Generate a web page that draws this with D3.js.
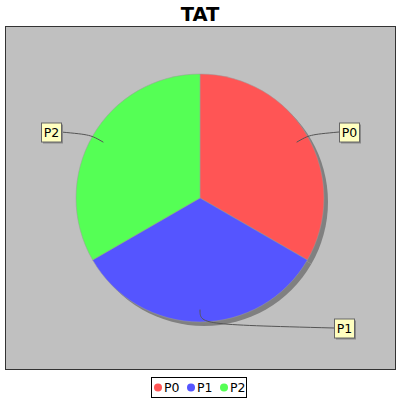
<!DOCTYPE html>
<html><head><meta charset="utf-8">
<script src="https://cdn.jsdelivr.net/npm/d3@7"></script>
<style>html,body{margin:0;padding:0;background:#fff;}svg{display:block;}</style>
</head><body>
<script>
const title = "TAT";
const categories = ["P0", "P1", "P2"];
const values = [1, 1, 1];
const colors = ["#FF5555", "#5555FF", "#55FF55"];

const W = 400, H = 400;
const svg = d3.select("body").append("svg").attr("width", W).attr("height", H);
const font = "'DejaVu Sans', sans-serif";

svg.append("text").attr("x", 200).attr("y", 21).attr("text-anchor", "middle")
  .attr("font-family", font).attr("font-weight", "bold").attr("font-size", 19.5).text(title);

// plot area
svg.append("rect").attr("x", 5.5).attr("y", 26.5).attr("width", 390).attr("height", 343)
  .attr("fill", "#C0C0C0").attr("stroke", "#333").attr("stroke-width", 1);

const cx = 200, cy = 198, R = 124;
const pie = d3.pie().sort(null).value(d => d)(values);
const arc = d3.arc().innerRadius(0).outerRadius(R);
const g = svg.append("g").attr("transform", `translate(${cx},${cy})`);

// shadow
g.append("g").attr("transform", "translate(4,4)").selectAll("path").data(pie).join("path")
  .attr("d", arc).attr("fill", "#808080");
g.selectAll("path.slice").data(pie).join("path").attr("class", "slice")
  .attr("d", arc).attr("fill", (d, i) => colors[i]).attr("stroke", "#9a9a9a").attr("stroke-width", 0.5);

// labels
const labelPos = [
  {x: 339, y: 132, side: "right"},
  {x: 334, y: 328, side: "right"},
  {x: 61, y: 132, side: "left"}
];
const lg = svg.append("g");
pie.forEach((d, i) => {
  const a = (d.startAngle + d.endAngle) / 2;
  const sx = cx + Math.sin(a) * R * 0.9, sy = cy - Math.cos(a) * R * 0.9;
  const ex = cx + Math.sin(a) * R * 1.02, ey = cy - Math.cos(a) * R * 1.02;
  const L = labelPos[i];
  lg.append("path")
    .attr("d", `M${sx},${sy} C${ex},${ey} ${ex},${ey} ${L.x},${L.y}`)
    .attr("fill", "none").attr("stroke", "#555").attr("stroke-width", 1);
});
pie.forEach((d, i) => {
  const L = labelPos[i];
  const t = lg.append("text").attr("font-family", font).attr("font-size", 12.5).text(categories[i]);
  const w = t.node().getComputedTextLength();
  const bw = Math.round(w + 4), bh = 19;
  const bx = L.side === "right" ? L.x : L.x - bw;
  const by = L.y - 9.5;
  lg.insert("rect", "text").attr("x", bx + 2).attr("y", by + 2).attr("width", bw).attr("height", bh).attr("fill", "#8a8a8a");
  lg.insert("rect", "text").attr("x", bx + 0.5).attr("y", by + 0.5).attr("width", bw).attr("height", bh)
    .attr("fill", "#FFFFC0").attr("stroke", "#666").attr("stroke-width", 1);
  t.attr("x", bx + bw / 2 + 0.5).attr("y", L.y + 5).attr("text-anchor", "middle");
});

// legend
const leg = svg.append("g");
leg.append("rect").attr("x", 151.5).attr("y", 377.5).attr("width", 95).attr("height", 20)
  .attr("fill", "#fff").attr("stroke", "#000").attr("stroke-width", 1);
const lx = d3.scalePoint().domain(categories).range([158, 224]);
categories.forEach((c, i) => {
  leg.append("circle").attr("cx", lx(c)).attr("cy", 387.5).attr("r", 4).attr("fill", colors[i]);
  leg.append("text").attr("x", lx(c) + 6).attr("y", 392).attr("font-family", font).attr("font-size", 12.5).text(c);
});
</script>
</body></html>
